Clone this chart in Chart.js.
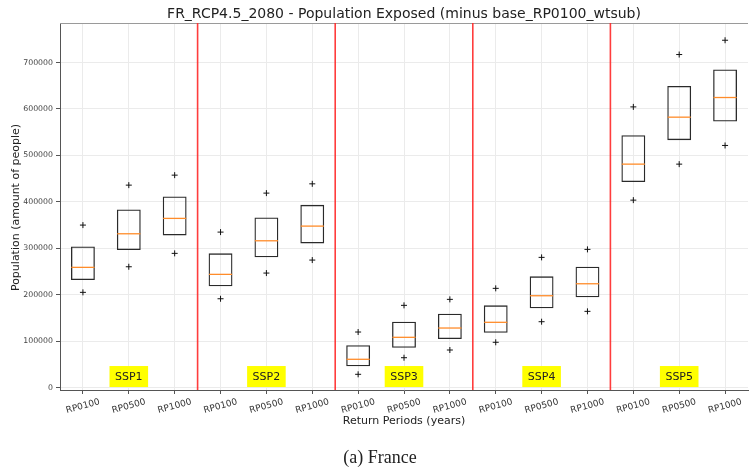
<!DOCTYPE html>
<html>
<head>
<meta charset="utf-8">
<script src="https://cdn.jsdelivr.net/npm/chart.js@4.4.1/dist/chart.umd.min.js"></script>
<style>
  html, body { margin: 0; padding: 0; background: #ffffff; }
  #wrap { position: relative; width: 749px; height: 471px; }
</style>
</head>
<body>
<div id="wrap"><canvas id="c" width="749" height="471"></canvas></div>
<script>
// ---- data ----
const returnPeriods = ['RP0100', 'RP0500', 'RP1000'];
const scenarios = ['SSP1', 'SSP2', 'SSP3', 'SSP4', 'SSP5'];
const categories = scenarios.flatMap(() => returnPeriods);

const boxLow    = [231700, 296200, 327800, 218100, 280500, 310600,  46000,  86000, 104800, 118300, 170800, 194400, 442500, 532800, 573000];
const boxHigh   = [304100, 383700, 411700, 289100, 366500, 393600,  91200, 142000, 159200, 177200, 239600, 260300, 543600, 649600, 684900];
const medians   = [259000, 331300, 364400, 243900, 316200, 347800,  61100, 108400, 128400, 140700, 197900, 223700, 481200, 582300, 624600];
const upperPts  = [350000, 436000, 457500, 334900, 418800, 438800, 119800, 177200, 190100, 213800, 280500, 297700, 604400, 717100, 747900];
const lowerPts  = [205200, 260300, 289100, 191400, 246700, 274700,  28800,  64500,  81100,  97700, 142000, 164300, 403700, 481200, 521400];
const yTicks    = [0, 100000, 200000, 300000, 400000, 500000, 600000, 700000];

const titleText = 'FR_RCP4.5_2080 - Population Exposed (minus base_RP0100_wtsub)';
const xTitle = 'Return Periods (years)';
const yTitle = 'Population (amount of people)';
const caption = '(a) France';

const FONT = '"DejaVu Sans", sans-serif';
const SSP_LABEL_Y = 24000;

const decorPlugin = {
  id: 'decor',
  beforeDatasetsDraw(chart) {
    const {ctx, chartArea: a} = chart;
    ctx.save();
    ctx.strokeStyle = '#9a9a9a';
    ctx.lineWidth = 1;
    ctx.beginPath();
    ctx.moveTo(a.left, a.top + 0.5);
    ctx.lineTo(a.right, a.top + 0.5);
    ctx.stroke();
    ctx.restore();
  },
  afterDatasetsDraw(chart) {
    const {ctx, chartArea: a, scales: {x, y}} = chart;
    ctx.save();
    ctx.strokeStyle = 'rgba(255,40,40,0.9)';
    ctx.lineWidth = 1.6;
    for (let g = 1; g < scenarios.length; g++) {
      const i = g * returnPeriods.length;
      const px = (x.getPixelForValue(i - 1) + x.getPixelForValue(i)) / 2;
      ctx.beginPath();
      ctx.moveTo(px, a.top);
      ctx.lineTo(px, a.bottom);
      ctx.stroke();
    }
    ctx.font = '11px ' + FONT;
    ctx.textAlign = 'center';
    ctx.textBaseline = 'middle';
    scenarios.forEach((s, g) => {
      const cx = x.getPixelForValue(g * returnPeriods.length + 1);
      const cy = y.getPixelForValue(SSP_LABEL_Y);
      const w = ctx.measureText(s).width + 11;
      const h = 21;
      ctx.fillStyle = '#ffff00';
      ctx.fillRect(cx - w / 2, cy - h / 2, w, h);
      ctx.fillStyle = '#222222';
      ctx.fillText(s, cx, cy + 0.5);
    });
    ctx.restore();
  },
  afterDraw(chart) {
    const {ctx, chartArea: a, scales: {x}} = chart;
    ctx.save();
    ctx.fillStyle = '#222222';
    ctx.font = '14px ' + FONT;
    ctx.textAlign = 'center';
    ctx.textBaseline = 'middle';
    ctx.fillText(titleText, (a.left + a.right) / 2, 14);
    ctx.font = '9px ' + FONT;
    ctx.fillStyle = '#333333';
    const ang = -15 * Math.PI / 180;
    categories.forEach((lab, i) => {
      const px = x.getPixelForValue(i);
      const w = ctx.measureText(lab).width;
      const bh = w * Math.sin(15 * Math.PI / 180) + 10 * Math.cos(15 * Math.PI / 180);
      ctx.save();
      ctx.translate(px, a.bottom + 7 + bh / 2);
      ctx.rotate(ang);
      ctx.textAlign = 'center';
      ctx.textBaseline = 'middle';
      ctx.fillText(lab, 0, 0);
      ctx.restore();
    });
    ctx.font = '11px ' + FONT;
    ctx.fillStyle = '#222222';
    ctx.textAlign = 'center';
    ctx.textBaseline = 'middle';
    ctx.fillText(xTitle, (a.left + a.right) / 2, 421);
    ctx.save();
    ctx.translate(16, (a.top + a.bottom) / 2 + 1);
    ctx.rotate(-Math.PI / 2);
    ctx.fillText(yTitle, 0, 0);
    ctx.restore();
    ctx.font = '18px "Liberation Serif", "DejaVu Serif", serif';
    ctx.fillStyle = '#222222';
    ctx.fillText(caption, 380, 458);
    ctx.restore();
  }
};

new Chart(document.getElementById('c'), {
  type: 'bar',
  data: {
    labels: categories,
    datasets: [
      {
        type: 'bar',
        label: 'box',
        data: boxLow.map((v, i) => [v, boxHigh[i]]),
        backgroundColor: 'rgba(0,0,0,0)',
        borderColor: '#2a2a2a',
        borderWidth: 1.3,
        borderSkipped: false,
        barPercentage: 0.52,
        categoryPercentage: 1.0,
        order: 3
      },
      {
        type: 'line',
        label: 'median',
        data: medians,
        showLine: false,
        pointStyle: 'line',
        pointRadius: 11.6,
        pointHoverRadius: 11.6,
        pointBorderColor: '#ff8c2a',
        pointBorderWidth: 1.3,
        borderColor: '#ff8c2a',
        order: 2
      },
      {
        type: 'line',
        label: 'upper',
        data: upperPts,
        showLine: false,
        pointStyle: 'cross',
        pointRadius: 3,
        pointHoverRadius: 3,
        pointBorderColor: '#111111',
        pointBorderWidth: 1,
        order: 1
      },
      {
        type: 'line',
        label: 'lower',
        data: lowerPts,
        showLine: false,
        pointStyle: 'cross',
        pointRadius: 3,
        pointHoverRadius: 3,
        pointBorderColor: '#111111',
        pointBorderWidth: 1,
        order: 1
      }
    ]
  },
  options: {
    responsive: false,
    animation: false,
    events: [],
    layout: { autoPadding: false, padding: { top: 23, right: 1, left: 0, bottom: 0 } },
    plugins: {
      legend: { display: false },
      tooltip: { enabled: false },
      title: { display: false }
    },
    scales: {
      x: {
        type: 'category',
        offset: true,
        grid: {
          offset: false,
          color: '#ebebeb',
          lineWidth: 1,
          drawTicks: true,
          tickLength: 4,
          tickColor: '#555555'
        },
        border: { display: true, color: '#555555', width: 1 },
        ticks: { display: false },
        afterFit(scale) { scale.height = 81; }
      },
      y: {
        type: 'linear',
        min: -5000,
        max: 785000,
        afterBuildTicks(scale) { scale.ticks = yTicks.map(v => ({ value: v })); },
        grid: {
          color: '#ebebeb',
          lineWidth: 1,
          drawTicks: true,
          tickLength: 4,
          tickColor: '#555555'
        },
        border: { display: true, color: '#555555', width: 1 },
        ticks: {
          font: { family: FONT, size: 7.8 },
          color: '#444444',
          padding: 3,
          callback: (v) => String(v)
        },
        afterFit(scale) { scale.width = 60; }
      }
    }
  },
  plugins: [decorPlugin]
});
</script>
</body>
</html>
